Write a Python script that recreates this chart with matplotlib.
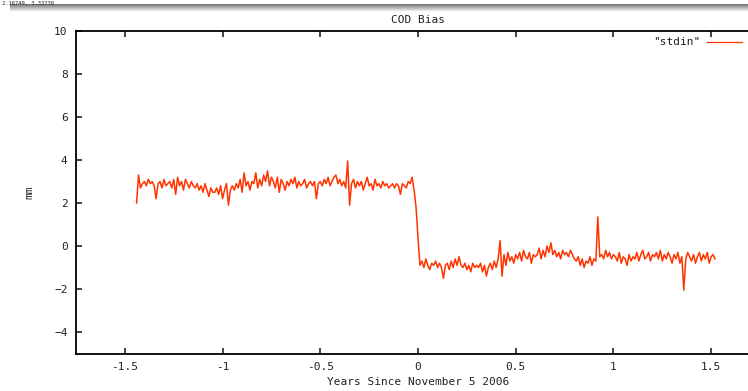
import numpy as np
import matplotlib
matplotlib.use("Agg")
import matplotlib.pyplot as plt

# years since November 5 2006, one sample every 0.01 yr
YEAR_START = -1.44
YEAR_STOP = 1.52

# bias (mm); before the step
BIAS_BEFORE = [
    2.0, 3.3, 2.7, 2.9, 3.0, 2.8, 3.1, 2.9, 3.0, 2.8,
    2.2, 2.9, 3.0, 2.7, 3.1, 2.8, 2.9, 3.0, 2.7, 3.1,
    2.4, 3.2, 2.8, 3.0, 2.6, 3.1, 2.9, 2.7, 3.0, 2.8,
    2.7, 2.9, 2.6, 2.8, 2.5, 2.9, 2.6, 2.3, 2.7, 2.5,
    2.5, 2.7, 2.4, 2.8, 2.2, 2.6, 2.9, 1.9, 2.6, 2.8,
    2.6, 2.9, 2.7, 3.1, 2.5, 3.4, 2.8, 3.0, 2.6, 3.0,
    2.9, 3.4, 2.7, 3.1, 2.8, 3.3, 3.0, 3.5, 2.8, 3.2,
    3.0, 2.7, 3.2, 2.5, 3.1, 2.9, 2.6, 3.0, 2.8, 3.1,
    2.9, 3.2, 2.7, 3.0, 2.8, 2.9, 3.1, 2.7, 2.9, 3.0,
    2.8, 3.0, 2.2, 2.9, 3.0, 2.8, 3.1, 2.9, 3.2, 2.8,
    3.0, 3.2, 3.3, 2.9, 3.1, 2.8, 3.0, 2.7, 3.95, 1.9,
    2.9, 3.1, 2.7, 3.0, 2.8, 3.0, 2.6, 2.9, 3.2, 2.8,
    2.9, 2.6, 3.1, 2.8, 2.9, 2.7, 3.0, 2.8, 2.9, 2.7,
    2.8, 2.9, 2.7, 2.9, 2.8, 2.4, 2.9, 2.8, 2.7, 3.0,
    2.9, 3.2, 2.6, 1.8,
]

# from the step onwards
BIAS_AFTER = [
    0.4,
    -0.9, -0.7, -1.0, -0.6, -0.9, -1.1, -0.8, -0.9, -0.7, -1.0,
    -0.8, -1.0, -1.5, -0.9, -0.8, -1.1, -0.7, -1.0, -0.6, -0.9,
    -0.5, -0.9, -1.0, -0.8, -1.1, -0.9, -1.2, -0.8, -1.0, -0.9,
    -1.0, -0.8, -1.2, -0.9, -1.4, -1.0, -0.8, -1.1, -0.7, -1.0,
    -0.6, 0.25, -1.4, -0.4, -0.9, -0.3, -0.7, -0.5, -0.8, -0.4,
    -0.6, -0.3, -0.7, -0.2, -0.5, -0.6, -0.3, -0.8, -0.4, -0.5,
    -0.4, -0.1, -0.6, -0.2, -0.5, 0.0, -0.3, 0.15, -0.4, -0.2,
    -0.5, -0.3, -0.6, -0.2, -0.4, -0.3, -0.5, -0.2, -0.4, -0.6,
    -0.7, -0.5, -0.9, -0.6, -1.0, -0.7, -0.8, -0.5, -0.9, -0.6,
    -0.7, 1.35, -0.5, -0.4, -0.6, -0.2, -0.5, -0.3, -0.6, -0.4,
    -0.5, -0.7, -0.3, -0.8, -0.5, -0.6, -0.9, -0.4, -0.7, -0.5,
    -0.6, -0.3, -0.7, -0.4, -0.2, -0.6, -0.5, -0.3, -0.7, -0.4,
    -0.5, -0.3, -0.6, -0.2, -0.7, -0.4, -0.6, -0.3, -0.5, -0.8,
    -0.4, -0.6, -0.3, -0.8, -0.5, -2.05, -0.6, -0.3, -0.5, -0.7,
    -0.4, -0.8, -0.5, -0.3, -0.7, -0.4, -0.6, -0.3, -0.8, -0.5, -0.4, -0.6,
]

X_TICKS = [-1.5, -1, -0.5, 0, 0.5, 1, 1.5]
X_TICK_LABELS = ["-1.5", "-1", "-0.5", "0", "0.5", "1", "1.5"]
Y_TICKS = [-4, -2, 0, 2, 4, 6, 8, 10]

LINE_COLOR = "#ff3300"
FONT = "DejaVu Sans Mono"


def main() -> None:
    bias = np.array(BIAS_BEFORE + BIAS_AFTER)
    years = np.round(np.arange(YEAR_START, YEAR_STOP + 0.005, 0.01), 2)
    years = years[: len(bias)]

    fig = plt.figure(figsize=(7.48, 3.91), dpi=100)
    W, H = 748.0, 391.0

    # plot box runs past the right edge of the picture, as in the reference
    ax = fig.add_axes([76 / W, (H - 353.5) / H, (760 - 76) / W, 322.5 / H])
    ax.plot(years, bias, color=LINE_COLOR, linewidth=1.1, label='"stdin"')
    ax.set_xlim(-1.75, 1.75)
    ax.set_ylim(-5, 10)
    ax.set_xticks(X_TICKS)
    ax.set_xticklabels(X_TICK_LABELS)
    ax.set_yticks(Y_TICKS)
    ax.tick_params(direction="in", length=4, width=1.2, top=True, right=True,
                   labelsize=8, colors="#222222", pad=6)
    for label in ax.get_xticklabels() + ax.get_yticklabels():
        label.set_family(FONT)
    for side in ("left", "bottom", "top", "right"):
        ax.spines[side].set_linewidth(1.3)

    ax.set_title("COD Bias", family=FONT, fontsize=8, color="#222222", pad=6)
    ax.set_xlabel("Years Since November 5 2006", family=FONT, fontsize=8,
                  color="#222222", labelpad=4)
    ax.set_ylabel("mm", family=FONT, fontsize=8, color="#222222", labelpad=14)

    # gnuplot style key, top right
    fig.text(700 / W, 1 - 42 / H, '"stdin"', family=FONT, fontsize=8,
             color="#222222", ha="right", va="center")
    fig.add_artist(plt.Line2D([707 / W, 742 / W], [1 - 42 / H, 1 - 42 / H],
                              color=LINE_COLOR, linewidth=0.9))

    # grey window-edge shading and coordinate readout at the top
    band = fig.add_axes([10 / W, 1 - 12 / H, 1 - 10 / W, 8 / H])
    band.imshow(np.linspace(0.45, 1.0, 20).reshape(-1, 1), cmap="gray",
                vmin=0, vmax=1, aspect="auto", extent=[0, 1, 0, 1])
    band.axis("off")
    fig.text(2 / W, 1 - 0.5 / H, "2.16749, 3.33730", family=FONT, fontsize=4,
             color="#222222", ha="left", va="top")

    fig.savefig("out.png", dpi=100)


if __name__ == "__main__":
    main()
